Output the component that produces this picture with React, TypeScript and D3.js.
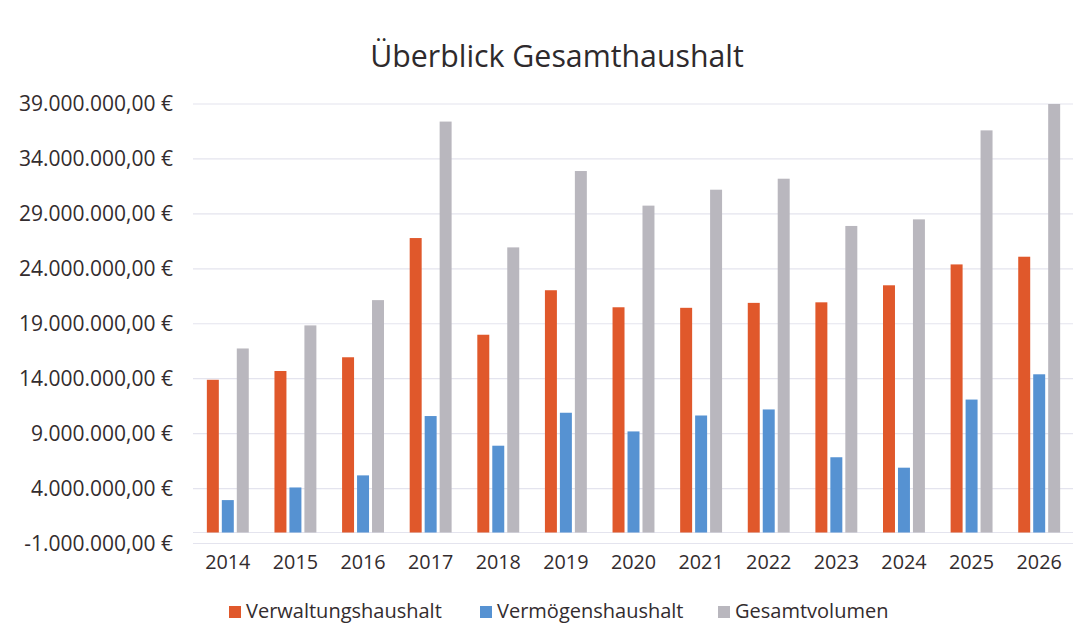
import React from 'react';
import * as d3 from 'd3';

const years = ['2014', '2015', '2016', '2017', '2018', '2019', '2020', '2021', '2022', '2023', '2024', '2025', '2026'];
const verwaltung = [13.9, 14.7, 15.95, 26.8, 18.0, 22.05, 20.5, 20.45, 20.9, 20.95, 22.5, 24.4, 25.1];
const vermoegen = [2.95, 4.1, 5.2, 10.6, 7.9, 10.9, 9.2, 10.65, 11.2, 6.85, 5.9, 12.1, 14.4];
const gesamt = [16.75, 18.85, 21.15, 37.4, 25.95, 32.9, 29.75, 31.2, 32.2, 27.9, 28.5, 36.6, 39.0];
const yTicks = [-1, 4, 9, 14, 19, 24, 29, 34, 39];

const seriesNames = ['Verwaltungshaushalt', 'Vermögenshaushalt', 'Gesamtvolumen'];
const seriesValues = [verwaltung, vermoegen, gesamt];
const colors = ['#e0582b', '#5692d2', '#b9b7be'];

const W = 1089;
const H = 643;
const FONT = "'Open Sans', sans-serif";

const de = d3.formatLocale({
  decimal: ',',
  thousands: '.',
  grouping: [3],
  currency: ['', ' €'],
  minus: '-',
});
const fmt = de.format('$,.2f');

export default function App() {
  const x0 = d3.scaleBand<string>().domain(years).range([194, 1073]).paddingInner(0.38).paddingOuter(0.19);
  const x1 = d3.scaleBand<string>().domain(seriesNames).range([0, x0.bandwidth()]).paddingInner(0.2);
  const y = d3.scaleLinear().domain([-1, 39]).range([543.5, 104]);

  // legend entries: square left edge
  const legendX = [229, 480, 718];

  return (
    <svg width={W} height={H} style={{ position: 'absolute', left: 0, top: 0, background: '#fff' }}>
      <rect x={0} y={0} width={W} height={H} fill="#fff" />
      <text x={557} y={67} textAnchor="middle" fontFamily={FONT} fontSize={30.3} fill="#2e2a2c">
        Überblick Gesamthaushalt
      </text>

      {yTicks.map(t => (
        <g key={t}>
          <line x1={193} x2={1073} y1={y(t)} y2={y(t)} stroke="#e4e4ee" strokeWidth={1.2} />
          <text x={173} y={y(t)} dy="0.35em" textAnchor="end" fontFamily={FONT} fontSize={21} fill="#332c2e">
            {fmt(t * 1e6)}
          </text>
        </g>
      ))}
      <line x1={193} x2={1073} y1={y(0)} y2={y(0)} stroke="#e4e4ee" strokeWidth={1.2} />

      {seriesNames.map((s, si) => (
        <g key={s}>
          {years.map((yr, i) => (
            <rect
              key={yr}
              x={(x0(yr) ?? 0) + (x1(s) ?? 0)}
              y={y(seriesValues[si][i])}
              width={x1.bandwidth()}
              height={y(0) - y(seriesValues[si][i])}
              fill={colors[si]}
            />
          ))}
        </g>
      ))}

      {years.map(yr => (
        <text
          key={yr}
          x={(x0(yr) ?? 0) + x0.bandwidth() / 2}
          y={569}
          textAnchor="middle"
          fontFamily={FONT}
          fontSize={19.8}
          fill="#332c2e"
        >
          {yr}
        </text>
      ))}

      {seriesNames.map((s, i) => (
        <g key={s} transform={`translate(${legendX[i]},606)`}>
          <rect x={0} y={0} width={12} height={12} fill={colors[i]} />
          <text x={17} y={12} fontFamily={FONT} fontSize={20} fill="#332c2e">
            {s}
          </text>
        </g>
      ))}
    </svg>
  );
}
